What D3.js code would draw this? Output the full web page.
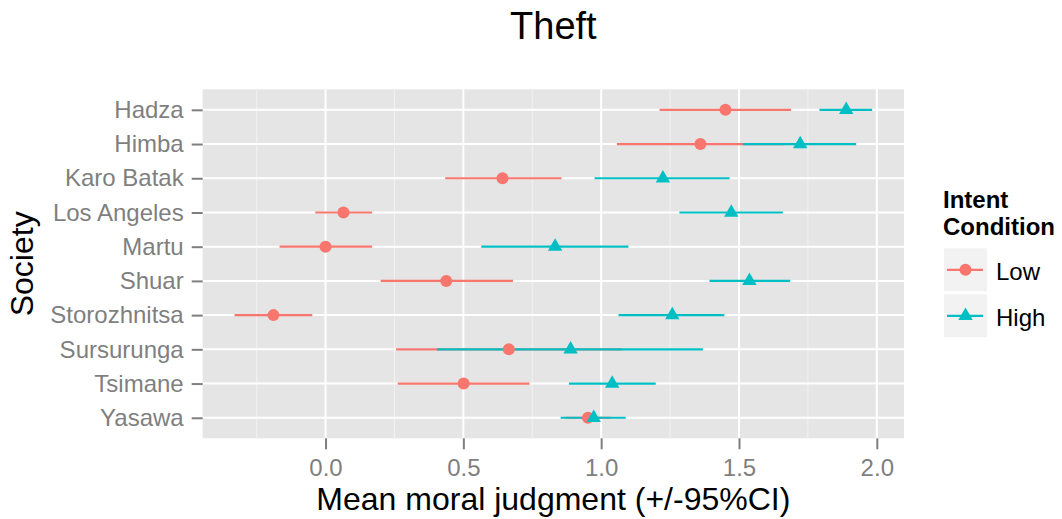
<!DOCTYPE html>
<html>
<head>
<meta charset="utf-8">
<script src="https://cdn.jsdelivr.net/npm/d3@7"></script>
<style>
  body { margin: 0; background: #fff; }
  svg { display: block; font-family: "Liberation Sans", Arial, sans-serif; }
</style>
</head>
<body>
<div id="chart"></div>
<script>
// Societies, top to bottom
var societies = ["Hadza", "Himba", "Karo Batak", "Los Angeles", "Martu",
  "Shuar", "Storozhnitsa", "Sursurunga", "Tsimane", "Yasawa"];

// Low intent condition: mean and 95% CI
var lowMean = [1.451, 1.360, 0.642, 0.065, 0.000, 0.438, -0.189, 0.665, 0.501, 0.952];
var lowLo   = [1.212, 1.057, 0.434, -0.037, -0.167, 0.200, -0.330, 0.256, 0.262, 0.870];
var lowHi   = [1.689, 1.663, 0.856, 0.169, 0.169, 0.680, -0.048, 1.074, 0.740, 1.034];

// High intent condition
var highMean = [1.889, 1.722, 1.224, 1.472, 0.833, 1.538, 1.258, 0.889, 1.040, 0.973];
var highLo   = [1.792, 1.514, 0.976, 1.284, 0.565, 1.393, 1.063, 0.404, 0.883, 0.853];
var highHi   = [1.983, 1.925, 1.466, 1.659, 1.099, 1.686, 1.447, 1.369, 1.198, 1.089];

var xTicks = [0, 0.5, 1.0, 1.5, 2.0];
var conditions = ["Low", "High"];
var colors = ["#F8766D", "#00BFC4"];

var W = 1062, H = 519;
var panel = { left: 202.7, right: 904, top: 89.3, bottom: 438.3 };

var svg = d3.select("#chart").append("svg")
  .attr("width", W).attr("height", H);

// build rows
var series = conditions.map(function (c, ci) {
  var m = ci === 0 ? lowMean : highMean,
      lo = ci === 0 ? lowLo : highLo,
      hi = ci === 0 ? lowHi : highHi;
  return societies.map(function (s, i) {
    return { society: s, mean: m[i], lo: lo[i], hi: hi[i], cond: c, ci: ci };
  });
});

var allVals = d3.merge([lowLo, lowHi, highLo, highHi, lowMean, highMean]);
var xmin = d3.min(allVals), xmax = d3.max(allVals), pad = (xmax - xmin) * 0.05;

var x = d3.scaleLinear()
  .domain([xmin - pad, xmax + pad])
  .range([panel.left, panel.right]);

var y = d3.scalePoint()
  .domain(societies)
  .range([panel.top, panel.bottom])
  .padding(0.6);

// panel background
svg.append("rect")
  .attr("x", panel.left).attr("y", panel.top)
  .attr("width", panel.right - panel.left)
  .attr("height", panel.bottom - panel.top)
  .style("fill", "#e5e5e5");

// minor grid
var minor = d3.range(-0.25, 2.2, 0.5).filter(function (v) {
  return v > x.domain()[0] && v < x.domain()[1];
});
svg.selectAll(".minor")
  .data(minor)
  .enter().append("line")
  .attr("x1", function (d) { return x(d); })
  .attr("x2", function (d) { return x(d); })
  .attr("y1", panel.top).attr("y2", panel.bottom)
  .style("stroke", "#f2f2f2").style("stroke-width", 1);

// major grid
svg.selectAll(".vmajor")
  .data(xTicks)
  .enter().append("line")
  .attr("x1", function (d) { return x(d); })
  .attr("x2", function (d) { return x(d); })
  .attr("y1", panel.top).attr("y2", panel.bottom)
  .style("stroke", "#fff").style("stroke-width", 2);

svg.selectAll(".hmajor")
  .data(societies)
  .enter().append("line")
  .attr("x1", panel.left).attr("x2", panel.right)
  .attr("y1", function (d) { return y(d); })
  .attr("y2", function (d) { return y(d); })
  .style("stroke", "#fff").style("stroke-width", 2);

// axes
var xAxis = svg.append("g")
  .attr("transform", "translate(0," + panel.bottom + ")")
  .call(d3.axisBottom(x).tickValues(xTicks).tickSize(11).tickPadding(10)
    .tickFormat(d3.format(".1f")));
xAxis.select(".domain").remove();
xAxis.selectAll("line").style("stroke", "#7f7f7f").style("stroke-width", 2);
xAxis.selectAll("text")
  .style("font-size", "24px").style("fill", "#7f7f7f")
  .style("font-family", "Liberation Sans, Arial, sans-serif");

var yAxis = svg.append("g")
  .attr("transform", "translate(" + panel.left + ",0)")
  .call(d3.axisLeft(y).tickSize(11).tickPadding(8));
yAxis.select(".domain").remove();
yAxis.selectAll("line").style("stroke", "#7f7f7f").style("stroke-width", 2);
yAxis.selectAll("text")
  .style("font-size", "24px").style("fill", "#7f7f7f")
  .style("font-family", "Liberation Sans, Arial, sans-serif");

// error bars, low then high
series.forEach(function (rows) {
  svg.selectAll(null)
    .data(rows)
    .enter().append("line")
    .attr("x1", function (d) { return x(d.lo); })
    .attr("x2", function (d) { return x(d.hi); })
    .attr("y1", function (d) { return y(d.society); })
    .attr("y2", function (d) { return y(d.society); })
    .style("stroke", function (d) { return colors[d.ci]; })
    .style("stroke-width", 2.2);
});

// points
svg.selectAll(".lowpt")
  .data(series[0])
  .enter().append("circle")
  .attr("cx", function (d) { return x(d.mean); })
  .attr("cy", function (d) { return y(d.society); })
  .attr("r", 6)
  .style("fill", colors[0]);

var tri = d3.symbol().type(d3.symbolTriangle).size(90);
svg.selectAll(".highpt")
  .data(series[1])
  .enter().append("path")
  .attr("d", tri)
  .attr("transform", function (d) {
    return "translate(" + x(d.mean) + "," + y(d.society) + ")";
  })
  .style("fill", colors[1]);

// titles
svg.append("text")
  .attr("x", (panel.left + panel.right) / 2).attr("y", 38.5)
  .attr("text-anchor", "middle")
  .style("font-size", "38px").style("fill", "#000")
  .text("Theft");

svg.append("text")
  .attr("x", (panel.left + panel.right) / 2).attr("y", 510)
  .attr("text-anchor", "middle")
  .style("font-size", "32px").style("fill", "#000")
  .text("Mean moral judgment (+/-95%CI)");

svg.append("text")
  .attr("transform", "translate(33," + (panel.top + panel.bottom) / 2 + ") rotate(-90)")
  .attr("text-anchor", "middle")
  .style("font-size", "32px").style("fill", "#000")
  .text("Society");

// legend
var lg = svg.append("g");
lg.selectAll(".lt")
  .data(["Intent", "Condition"])
  .enter().append("text")
  .attr("x", 943).attr("y", function (d, i) { return 207.5 + i * 27.5; })
  .style("font-size", "24px").style("font-weight", "bold")
  .text(function (d) { return d; });

var keys = lg.selectAll(".key")
  .data(conditions)
  .enter().append("g")
  .attr("transform", function (d, i) { return "translate(944," + (248.3 + i * 46) + ")"; });

keys.append("rect")
  .attr("width", 43).attr("height", 43)
  .style("fill", "#f2f2f2");
keys.append("line")
  .attr("x1", 3).attr("x2", 39).attr("y1", 21.5).attr("y2", 21.5)
  .style("stroke", function (d, i) { return colors[i]; })
  .style("stroke-width", 2.2);
keys.filter(function (d, i) { return i === 0; }).append("circle")
  .attr("cx", 21.5).attr("cy", 21.5).attr("r", 6)
  .style("fill", colors[0]);
keys.filter(function (d, i) { return i === 1; }).append("path")
  .attr("d", tri)
  .attr("transform", "translate(21.5,21.5)")
  .style("fill", colors[1]);
keys.append("text")
  .attr("x", 52).attr("y", 31.5)
  .style("font-size", "24px")
  .text(function (d) { return d; });
</script>
</body>
</html>
